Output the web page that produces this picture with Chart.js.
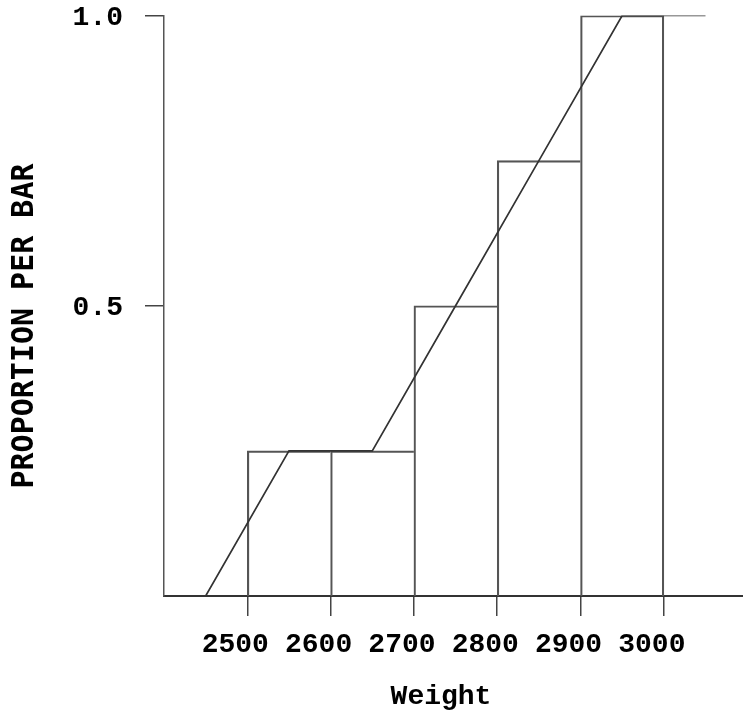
<!DOCTYPE html>
<html><head><meta charset="utf-8">
<script src="https://cdn.jsdelivr.net/npm/chart.js@4"></script>
<style>html,body{margin:0;padding:0;background:#fff}canvas{display:block}</style>
</head><body>
<canvas id="c" width="743" height="715"></canvas>
<script>
// ---- data ----
const binEdges = [2500, 2600, 2700, 2800, 2900, 3000];
const barProportions = [0.25, 0.25, 0.5, 0.75, 1.0];
const lineWeights = [2450, 2550, 2650, 2750, 2850, 2950, 3050];
const lineProportions = [0, 0.25, 0.25, 0.5, 0.75, 1.0, 1.0];
const xTickValues = [2500, 2600, 2700, 2800, 2900, 3000];
const yTickValues = [0.5, 1.0];
const xTitle = 'Weight';
const yTitle = 'PROPORTION PER BAR';

const barData = barProportions.map((p, i) => ({ x: (binEdges[i] + binEdges[i + 1]) / 2, y: p }));
const lineData = lineWeights.map((w, i) => ({ x: w, y: lineProportions[i] }));

const tickFont = { family: '"Liberation Mono", monospace', weight: 'bold', size: 28, lineHeight: 1.2 };
const lastBar = barProportions.length - 1;

const titlePlugin = {
  id: 'axisTitles',
  afterDraw(chart) {
    const ctx = chart.ctx;
    ctx.save();
    ctx.fillStyle = '#000';
    ctx.font = 'bold 28px "Liberation Mono", monospace';
    ctx.textAlign = 'center';
    ctx.textBaseline = 'alphabetic';
    ctx.fillText(xTitle, 441, 704);
    ctx.restore();
    ctx.save();
    ctx.fillStyle = '#000';
    ctx.translate(33, 326);
    ctx.rotate(-Math.PI / 2);
    ctx.font = 'bold 30px "DejaVu Sans Mono", monospace';
    ctx.textAlign = 'center';
    ctx.textBaseline = 'alphabetic';
    ctx.fillText(yTitle, 0, 0);
    ctx.restore();
  }
};

const noPad = s => { s.paddingTop = 0; s.paddingBottom = 0; s.paddingLeft = 0; s.paddingRight = 0; };

new Chart(document.getElementById('c'), {
  type: 'bar',
  data: {
    datasets: [
      {
        type: 'line',
        data: lineData,
        borderColor: '#333',
        borderWidth: 1.7,
        pointRadius: 0,
        tension: 0,
        fill: false,
        order: 0
      },
      {
        type: 'bar',
        data: barData,
        backgroundColor: 'rgba(0,0,0,0)',
        borderColor: '#555',
        borderSkipped: false,
        borderWidth: ctx => ({ top: 1.5, left: 1.5, bottom: 0, right: ctx.dataIndex === lastBar ? 1.5 : 0 }),
        barPercentage: 1,
        categoryPercentage: 1,
        order: 1
      }
    ]
  },
  options: {
    responsive: false,
    animation: false,
    devicePixelRatio: 1,
    layout: { padding: { top: 15.5, right: 0, left: 0, bottom: 0 } },
    plugins: { legend: { display: false }, tooltip: { enabled: false } },
    scales: {
      x: {
        type: 'linear',
        min: 2400,
        max: 3095,
        offset: false,
        grid: { display: true, offset: false, drawOnChartArea: false, drawTicks: true, tickLength: 20, color: '#444', lineWidth: 1.5 },
        border: { display: true, color: '#333', width: 2 },
        ticks: { font: tickFont, color: '#000', padding: 12, labelOffset: -12, maxRotation: 0, autoSkip: false, callback: v => String(v) },
        afterBuildTicks: s => { s.ticks = xTickValues.map(v => ({ value: v })); },
        afterFit: s => { s.height = 119; noPad(s); }
      },
      y: {
        type: 'linear',
        min: 0,
        max: 1,
        position: 'left',
        grid: { display: true, drawOnChartArea: false, drawTicks: true, tickLength: 19, color: '#444', lineWidth: 1.5 },
        border: { display: true, color: '#555', width: 1.5 },
        ticks: { font: tickFont, color: '#000', padding: 22, labelOffset: 2, callback: v => Number(v).toFixed(1) },
        afterBuildTicks: s => { s.ticks = yTickValues.map(v => ({ value: v })); },
        afterFit: s => { s.width = 164; noPad(s); }
      }
    }
  },
  plugins: [titlePlugin]
});
</script>
</body></html>
